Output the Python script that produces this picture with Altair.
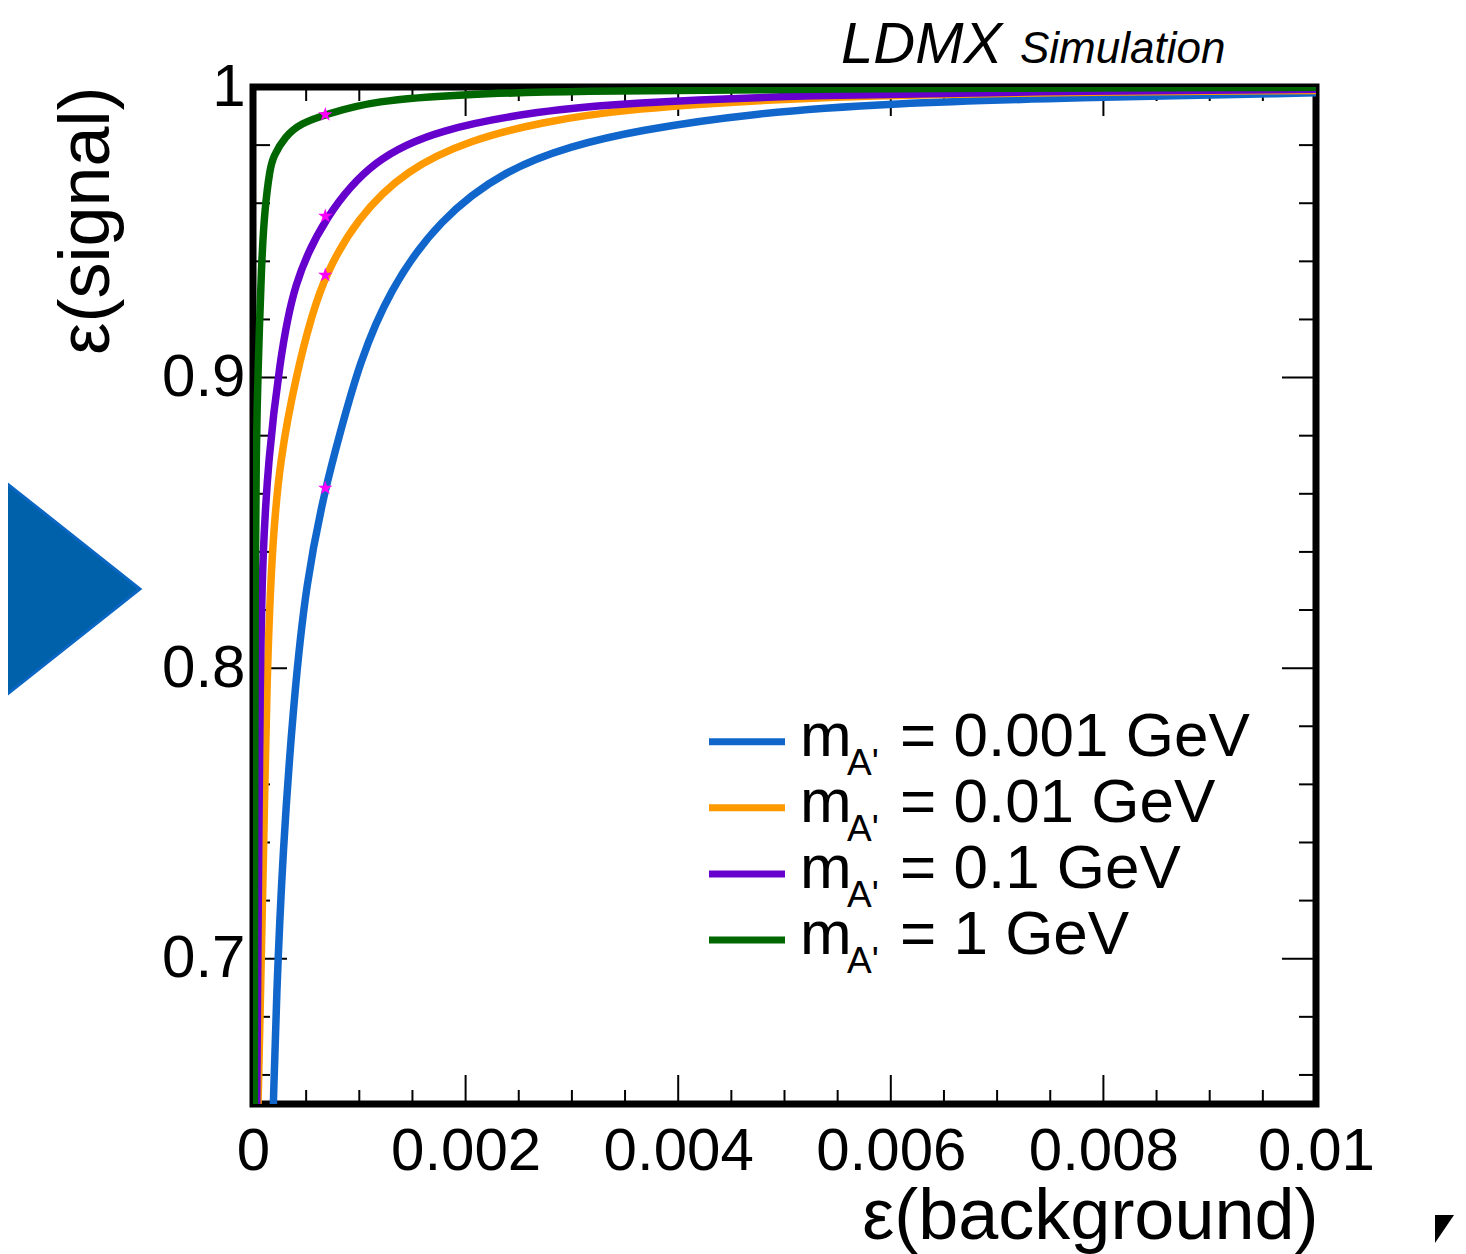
import altair as alt
import pandas as pd

# ---------------- data ----------------
series_names = ["0.001", "0.01", "0.1", "1"]
legend_labels = ["= 0.001 GeV", "= 0.01 GeV", "= 0.1 GeV", "= 1 GeV"]
colors = ["#1166CC", "#FF9900", "#6600CC", "#006600"]

blue_x = [0.00019, 0.00022, 0.00028, 0.00038, 0.0005, 0.00068, 0.00082, 0.001,
          0.00128, 0.00175, 0.00238, 0.003, 0.0036, 0.0047, 0.006, 0.0077, 0.01]
blue_y = [0.648, 0.687, 0.737, 0.788, 0.830, 0.862, 0.881, 0.905,
          0.930, 0.9545, 0.9717, 0.9798, 0.9850, 0.9910, 0.9944, 0.9963, 0.9980]

orange_x = [0.00004, 0.00005, 0.00007, 0.0001, 0.00013, 0.000175, 0.00025, 0.00042,
            0.00055, 0.00068, 0.00097, 0.00144, 0.00206, 0.0027, 0.0035, 0.0052, 0.007, 0.01]
orange_y = [0.64, 0.653, 0.687, 0.737, 0.796, 0.839, 0.872, 0.903,
            0.921, 0.9353, 0.9545, 0.9717, 0.982, 0.9878, 0.9925, 0.9965, 0.998, 0.9988]

purple_x = [0.00003, 0.000035, 0.000045, 0.000068, 0.00009, 0.000144, 0.00025, 0.00038,
            0.00068, 0.00113, 0.00175, 0.0027, 0.0035, 0.0052, 0.0073, 0.01]
purple_y = [0.63, 0.65, 0.70, 0.80, 0.8386, 0.8724, 0.905, 0.9327,
            0.9556, 0.9752, 0.9855, 0.9918, 0.9945, 0.9972, 0.9984, 0.9992]

green_x = [0.000012, 0.000015, 0.00002, 0.00003, 0.000045, 0.00008, 0.00011, 0.00016,
           0.00019, 0.0003, 0.00045, 0.00068, 0.00113, 0.002, 0.003, 0.005, 0.01]
green_y = [0.64, 0.75, 0.83, 0.875, 0.90, 0.94, 0.958, 0.972,
           0.976, 0.983, 0.9875, 0.9905, 0.9953, 0.9976, 0.9985, 0.9994, 0.9999]

# working points (stars)
star_x = [0.00068, 0.00068, 0.00068, 0.00068]
star_y = [0.862, 0.9353, 0.9556, 0.9905]

# axis ticks
x_labels = [0, 0.002, 0.004, 0.006, 0.008, 0.01]
x_major = [0.002, 0.004, 0.006, 0.008]
x_minor = [0.0005, 0.001, 0.0015, 0.0025, 0.003, 0.0035, 0.0045, 0.005, 0.0055,
           0.0065, 0.007, 0.0075, 0.0085, 0.009, 0.0095]
y_labels = [0.7, 0.8, 0.9, 1.0]
y_major = [0.7, 0.8, 0.9]
y_minor = [0.66, 0.68, 0.72, 0.74, 0.76, 0.78, 0.82, 0.84, 0.86, 0.88,
           0.92, 0.94, 0.96, 0.98]

# ---------------- build ----------------
W, H = 1063, 1017
FONT = "Liberation Sans"

all_x = [blue_x, orange_x, purple_x, green_x]
all_y = [blue_y, orange_y, purple_y, green_y]
rows = []
for name, xs, ys in zip(series_names, all_x, all_y):
    for xv, yv in zip(xs, ys):
        rows.append({"mass": name, "bkg": xv, "sig": yv})
df = pd.DataFrame(rows)
stars_df = pd.DataFrame({"mass": series_names, "bkg": star_x, "sig": star_y})

xscale = alt.Scale(domain=[0, 0.01], nice=False, zero=False)
yscale = alt.Scale(domain=[0.65, 1.0], nice=False, zero=False)
cscale = alt.Scale(domain=series_names, range=colors)

x_axis = alt.Axis(values=x_labels, format="~g", labelFont=FONT, labelFontSize=60,
                  labelPadding=18, labelFlush=False, labelOverlap=False,
                  ticks=False, tickSize=0, domain=False, grid=False,
                  title="ε(background)", titleFont=FONT, titleFontSize=72,
                  titleFontWeight="normal", titleX=W + 2, titleY=134,
                  titleAlign="right", titleAnchor="end", titleBaseline="alphabetic",
                  labelColor="black", titleColor="black")
y_axis = alt.Axis(values=y_labels, format="~g", labelFont=FONT, labelFontSize=60,
                  labelPadding=8, labelFlush=False, labelOverlap=False,
                  labelAlign="right", labelBaseline="middle",
                  ticks=False, tickSize=0, domain=False, grid=False,
                  title="ε(signal)", titleFont=FONT, titleFontSize=72,
                  titleFontWeight="normal", titleAngle=270, titleX=-145, titleY=-1,
                  titleAlign="right", titleAnchor="end", titleBaseline="alphabetic",
                  labelColor="black", titleColor="black")

def X(field):
    return alt.X(field, scale=xscale, axis=x_axis, title="ε(background)")

def Y(field):
    return alt.Y(field, scale=yscale, axis=y_axis, title="ε(signal)")

layers = []

# tick marks (inside, all four sides)
def tick_layer(vals, orient, length):
    d = pd.DataFrame({"v": vals})
    base = alt.Chart(d).mark_rule(color="black", strokeWidth=2)
    if orient == "bottom":
        return base.encode(x=X("v:Q"), y=alt.value(H), y2=alt.value(H - length))
    if orient == "top":
        return base.encode(x=X("v:Q"), y=alt.value(0), y2=alt.value(length))
    if orient == "left":
        return base.encode(y=Y("v:Q"), x=alt.value(0), x2=alt.value(length))
    return base.encode(y=Y("v:Q"), x=alt.value(W), x2=alt.value(W - length))

for orient in ["bottom", "top"]:
    layers.append(tick_layer(x_major, orient, 29))
    layers.append(tick_layer(x_minor, orient, 14))
for orient in ["left", "right"]:
    layers.append(tick_layer(y_major, orient, 34))
    layers.append(tick_layer(y_minor, orient, 17))

# curves, drawn in order blue, orange, purple, green
for name in series_names:
    layers.append(
        alt.Chart(df).transform_filter(alt.datum.mass == name)
        .mark_line(strokeWidth=7.5, clip=True, interpolate="basis")
        .encode(x=X("bkg:Q"), y=Y("sig:Q"),
                color=alt.Color("mass:N", scale=cscale, legend=None),
                order=alt.Order("bkg:Q"))
    )

STAR = ("M0,-1 L0.225,-0.309 L0.951,-0.309 L0.363,0.118 L0.588,0.809 L0,0.382 "
        "L-0.588,0.809 L-0.363,0.118 L-0.951,-0.309 L-0.225,-0.309 Z")
layers.append(
    alt.Chart(stars_df).mark_point(shape=STAR, filled=True, size=230, color="#FF00FF",
                                   opacity=1, strokeWidth=0)
    .encode(x=X("bkg:Q"), y=Y("sig:Q"))
)

# legend (built by hand to allow the subscript)
legend_df = pd.DataFrame({"mass": series_names, "label": legend_labels, "row": [0, 1, 2, 3]})
for i in range(4):
    ly = 654.7 + 66.1 * i
    base = alt.Chart(legend_df).transform_filter(alt.datum.row == i)
    layers.append(base.mark_rule(strokeWidth=7).encode(
        x=alt.value(456), x2=alt.value(532), y=alt.value(ly),
        color=alt.Color("mass:N", scale=cscale, legend=None)))
    layers.append(base.mark_text(text="m", font=FONT, fontSize=62, align="left",
                                 baseline="alphabetic", color="black")
                  .encode(x=alt.value(547), y=alt.value(ly + 14)))
    layers.append(base.mark_text(text="A'", font=FONT, fontSize=37, align="left",
                                 baseline="alphabetic", color="black")
                  .encode(x=alt.value(594), y=alt.value(ly + 33)))
    layers.append(base.mark_text(font=FONT, fontSize=62, align="left",
                                 baseline="alphabetic", color="black")
                  .encode(x=alt.value(647), y=alt.value(ly + 14), text="label:N"))

# "LDMX Simulation" label
one = pd.DataFrame({"a": [1]})
layers.append(alt.Chart(one).mark_text(text="LDMX", font=FONT, fontSize=58, fontStyle="italic",
                                       align="left", baseline="alphabetic", color="black")
              .encode(x=alt.value(588), y=alt.value(-24)))
layers.append(alt.Chart(one).mark_text(text="Simulation", font=FONT, fontSize=44, fontStyle="italic",
                                       align="left", baseline="alphabetic", color="black")
              .encode(x=alt.value(767), y=alt.value(-24)))

# slide decorations
TRI_R = "M-0.63,-1 L0.63,0 L-0.63,1 Z"
layers.append(alt.Chart(one).mark_point(shape=TRI_R, filled=True, size=49284, color="#0061AB",
                                        opacity=1, stroke="#0A66C2", strokeWidth=3)
              .encode(x=alt.value(-183), y=alt.value(502)))
TRI_S = "M-0.68,-1 L0.68,-1 L-0.68,1 Z"
layers.append(alt.Chart(one).mark_point(shape=TRI_S, filled=True, size=784, color="black",
                                        opacity=1, strokeWidth=0)
              .encode(x=alt.value(1191.5), y=alt.value(1142)))

chart = alt.layer(*layers).properties(
    width=W, height=H,
    autosize=alt.AutoSizeParams(type="none"),
    padding={"left": 245, "top": 79, "right": 142, "bottom": 150},
    background="white",
).configure_view(stroke="black", strokeWidth=7)

chart.save("out.html", embed_options={"renderer": "svg", "actions": False})
